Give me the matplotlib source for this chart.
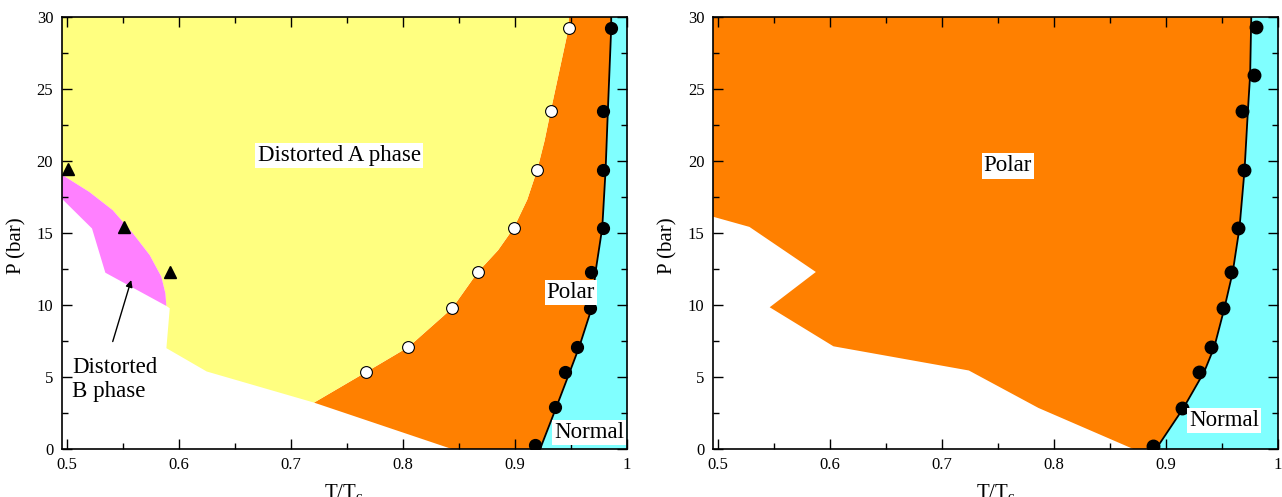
import matplotlib
matplotlib.use("Agg")
import matplotlib.pyplot as plt
from matplotlib.ticker import MultipleLocator

plt.rcParams['font.family'] = ['Liberation Serif', 'DejaVu Serif']
plt.rcParams['mathtext.fontset'] = 'custom'
plt.rcParams['mathtext.rm'] = 'Liberation Serif'
plt.rcParams['mathtext.it'] = 'Liberation Serif'

YELLOW = '#ffff80'
ORANGE = '#ff8000'
CYAN = '#80ffff'
PINK = '#ff80ff'

# ---------- left panel data ----------
# distorted A / polar boundary (open circles)
open_T = [0.948, 0.932, 0.920, 0.899, 0.8668, 0.844, 0.805, 0.767]
open_P = [29.24, 23.47, 19.4, 15.35, 12.27, 9.77, 7.08, 5.33]
a_edge_T = [0.7207, 0.767, 0.805, 0.844, 0.8668, 0.885, 0.899, 0.911, 0.920, 0.9265, 0.932, 0.948, 0.948]
a_edge_P = [3.22, 5.33, 7.08, 9.77, 12.27, 13.8, 15.35, 17.3, 19.4, 21.4, 23.47, 29.24, 30]

# polar / normal transition (filled circles + line)
left_dot_T = [0.986, 0.979, 0.979, 0.979, 0.968, 0.967, 0.9555, 0.945, 0.9355, 0.918]
left_dot_P = [29.24, 23.47, 19.4, 15.35, 12.3, 9.76, 7.1, 5.35, 2.9, 0.3]
left_line_T = [0.9225, 0.937, 0.949, 0.9575, 0.9685, 0.972, 0.978, 0.981, 0.983, 0.986, 0.986]
left_line_P = [0, 2.9, 5.35, 7.1, 9.76, 12.3, 15.35, 19.4, 23.47, 29.24, 30]

# distorted B points (triangles)
tri_T = [0.5015, 0.551, 0.592]
tri_P = [19.42, 15.43, 12.31]

# pink (distorted B) region edges
b_upper_T = [0.494, 0.520, 0.541, 0.559, 0.574, 0.5844, 0.588, 0.5889]
b_upper_P = [19.12, 17.85, 16.58, 14.97, 13.46, 11.96, 10.81, 9.93]
b_lower_T = [0.5889, 0.5344, 0.5225, 0.494]
b_lower_P = [9.93, 12.24, 15.31, 17.5]

# lower edge of yellow region (to white), from pink corner to polar corner
a_low_T = [0.5889, 0.5919, 0.5889, 0.6249, 0.7207]
a_low_P = [9.93, 9.77, 7.0, 5.38, 3.22]

# white / polar edge on the left panel
left_white_T = [0.7207, 0.8437]
left_white_P = [3.22, 0.0]

# ---------- right panel data ----------
right_dot_T = [0.980, 0.978, 0.968, 0.9695, 0.9645, 0.958, 0.951, 0.940, 0.929, 0.914, 0.888]
right_dot_P = [29.3, 26.0, 23.5, 19.37, 15.36, 12.3, 9.77, 7.08, 5.36, 2.85, 0.23]
right_line_T = [0.891, 0.9155, 0.934, 0.943, 0.952, 0.9595, 0.9655, 0.970, 0.973, 0.975, 0.976]
right_line_P = [0, 2.85, 5.36, 7.08, 9.77, 12.3, 15.36, 19.37, 23.5, 26.0, 30]

# white / polar edge on the right panel (from left axis down to T axis)
right_white_T = [0.494, 0.528, 0.5873, 0.5461, 0.603, 0.7239, 0.786, 0.8707]
right_white_P = [16.16, 15.42, 12.29, 9.84, 7.13, 5.45, 2.85, 0.0]

XMIN, XMAX = 0.4953, 1.0
PMAX = 30

fig = plt.figure(figsize=(12.82, 4.97), dpi=100)
ax1 = fig.add_axes([0.048, 0.0966, 0.441, 0.8694])
ax2 = fig.add_axes([0.556, 0.0966, 0.441, 0.8694])

# ---- left panel regions ----
ax1.fill_betweenx(left_line_P, left_line_T, XMAX, color=CYAN, lw=0)

orange_T = a_edge_T + left_line_T[::-1] + [left_white_T[1]]
orange_P = a_edge_P + left_line_P[::-1] + [left_white_P[1]]
ax1.fill(orange_T, orange_P, color=ORANGE, lw=0)

yellow_T = [b_upper_T[0], 0.494] + a_edge_T[::-1] + a_low_T[::-1] + b_upper_T[::-1]
yellow_P = [b_upper_P[0], PMAX] + a_edge_P[::-1] + a_low_P[::-1] + b_upper_P[::-1]
ax1.fill(yellow_T, yellow_P, color=YELLOW, lw=0)

ax1.fill(b_upper_T + b_lower_T[1:], b_upper_P + b_lower_P[1:], color=PINK, lw=0)

ax1.plot(left_line_T, left_line_P, color='black', lw=1.3, zorder=3)
ax1.plot(left_dot_T, left_dot_P, 'o', color='black', ms=8.5, ls='none', zorder=4)
ax1.plot(open_T, open_P, 'o', mfc='white', mec='black', mew=0.8, ms=8.5, ls='none', zorder=4)
ax1.plot(tri_T, tri_P, '^', color='black', ms=8, ls='none', zorder=4)

FS = 16.5
box = dict(facecolor='white', edgecolor='none', pad=1.5)
ax1.text(0.743, 20.38, 'Distorted A phase', fontsize=FS, ha='center', va='center', bbox=box, zorder=5)
ax1.text(0.950, 10.85, 'Polar', fontsize=FS, ha='center', va='center', bbox=box, zorder=5)
ax1.text(0.966, 1.15, 'Normal', fontsize=FS, ha='center', va='center', bbox=box, zorder=5)
ax1.text(0.5045, 4.85, 'Distorted\nB phase', fontsize=FS, ha='left', va='center',
         linespacing=1.2, zorder=5)
ax1.annotate('', xy=(0.5575, 11.73), xytext=(0.541, 7.46),
             arrowprops=dict(arrowstyle='-|>', color='black', lw=1.0,
                             mutation_scale=10, shrinkA=0, shrinkB=0), zorder=5)

# ---- right panel regions ----
ax2.fill_betweenx(right_line_P, right_line_T, XMAX, color=CYAN, lw=0)
polar_T = [0.494, 0.494] + right_line_T[::-1] + right_white_T[::-1]
polar_P = [right_white_P[0], PMAX] + right_line_P[::-1] + right_white_P[::-1]
ax2.fill(polar_T, polar_P, color=ORANGE, lw=0)
ax2.plot(right_line_T, right_line_P, color='black', lw=1.3, zorder=3)
ax2.plot(right_dot_T, right_dot_P, 'o', color='black', ms=9, ls='none', zorder=4)

ax2.text(0.7587, 19.65, 'Polar', fontsize=FS, ha='center', va='center', bbox=box, zorder=5)
ax2.text(0.9516, 2.0, 'Normal', fontsize=FS, ha='center', va='center', bbox=box, zorder=5)

for ax in (ax1, ax2):
    ax.set_xlim(XMIN, XMAX)
    ax.set_ylim(0, PMAX)
    ax.xaxis.set_major_locator(MultipleLocator(0.1))
    ax.xaxis.set_minor_locator(MultipleLocator(0.05))
    ax.yaxis.set_major_locator(MultipleLocator(5))
    ax.yaxis.set_minor_locator(MultipleLocator(2.5))
    ax.tick_params(which='both', direction='in', top=True, right=True, width=1.0)
    ax.tick_params(which='major', length=7, labelsize=12, pad=6)
    ax.tick_params(which='minor', length=4)
    ax.set_xticks([0.5, 0.6, 0.7, 0.8, 0.9, 1.0])
    ax.set_xticklabels(['0.5', '0.6', '0.7', '0.8', '0.9', '1'])
    for s in ax.spines.values():
        s.set_linewidth(1.2)
    ax.set_xlabel('T/T$_\\mathrm{c}$', fontsize=15, labelpad=6)
    ax.set_ylabel('P (bar)', fontsize=15)
    ax.yaxis.set_label_coords(-0.062, 0.47)

fig.savefig('out.png', dpi=100)
